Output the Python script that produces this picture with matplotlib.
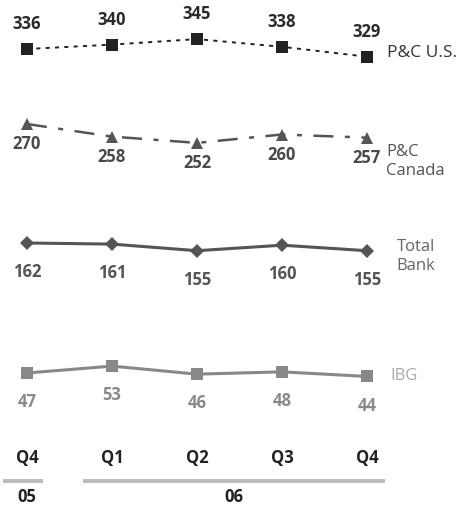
import matplotlib
matplotlib.use("Agg")
import matplotlib.pyplot as plt
from matplotlib.transforms import blended_transform_factory

# Quarterly values by business line
quarters = ["Q4", "Q1", "Q2", "Q3", "Q4"]
years = ["05", "06"]
year_spans = [(0, 0), (1, 4)]  # quarter index range covered by each year
pc_us = [336, 340, 345, 338, 329]
pc_canada = [270, 258, 252, 260, 257]
total_bank = [162, 161, 155, 160, 155]
ibg = [47, 53, 46, 48, 44]

W, H = 462, 508
fig = plt.figure(figsize=(W / 100, H / 100), dpi=100)
plt.rcParams["font.family"] = ["Open Sans", "DejaVu Sans"]

x = list(range(len(quarters)))
x0_px, step_px = 27, 85
xlim = (-x0_px / step_px, (W - x0_px) / step_px)


def band(anchor_val, anchor_px, px_per_unit):
    """Transparent full-figure axes whose y scale places anchor_val at anchor_px (from top)."""
    ax = fig.add_axes([0, 0, 1, 1])
    ax.set_xlim(*xlim)
    lo = anchor_val - (H - anchor_px) / px_per_unit
    ax.set_ylim(lo, lo + H / px_per_unit)
    ax.axis("off")
    ax.patch.set_alpha(0)
    return ax


series = [
    dict(vals=pc_us, name="P&C U.S.", anchor=(336, 49, 1.1), color="#222222",
         ls=(0, (2.1, 2.7)), lw=1.4, marker="s", ms=8, lab_off=18, lab_color="#2a2a2a",
         name_off=(14.5, 3), name_color="#333333", name_size=12.5),
    dict(vals=pc_canada, name="P&C\nCanada", anchor=(270, 124, 1.05), color="#555555",
         ls=(0, (8, 4.6, 2, 4.6)), lw=1.8, marker="^", ms=8, lab_off=-14.5, lab_color="#4a4a4a",
         name_off=(14, -17), name_color="#555555", name_size=12),
    dict(vals=total_bank, name="Total\nBank", anchor=(162, 243, 1.1), color="#555555",
         ls="-", lw=2.2, marker="D", ms=7.5, lab_off=-21, lab_color="#555555",
         name_off=(21.5, -4), name_color="#666666", name_size=12),
    dict(vals=ibg, name="IBG", anchor=(47, 373, 1.15), color="#888888",
         ls="-", lw=2.2, marker="s", ms=8, lab_off=-21, lab_color="#8a8a8a",
         name_off=(16.5, 0), name_color="#aaaaaa", name_size=12),
]

for s in series:
    ax = band(*s["anchor"])
    ax.plot(x, s["vals"], color=s["color"], linestyle=s["ls"], linewidth=s["lw"],
            marker=s["marker"], markersize=s["ms"], markeredgewidth=0, zorder=3)
    for xi, v in zip(x, s["vals"]):
        ax.annotate(str(v), (xi, v), xytext=(0, s["lab_off"]), textcoords="offset points",
                    ha="center", va="center", fontsize=12, fontweight="bold",
                    color=s["lab_color"])
    ax.annotate(s["name"], (x[-1], s["vals"][-1]), xytext=s["name_off"],
                textcoords="offset points", ha="left", va="center",
                fontsize=s["name_size"], color=s["name_color"], linespacing=1.25)

# Category axis: quarter labels and year groups
axx = fig.add_axes([0, 0, 1, 1])
axx.set_xlim(*xlim)
axx.set_ylim(0, 1)
axx.axis("off")
axx.patch.set_alpha(0)
tr = blended_transform_factory(axx.transData, fig.transFigure)
for xi, q in zip(x, quarters):
    axx.text(xi, 1 - 458 / H, q, transform=tr, ha="center", va="center",
             fontsize=12, fontweight="bold", color="#222222")
for (a, b), yr in zip(year_spans, years):
    left = a - (0.28 if a == 0 else 0.34)
    right = b + (0.19 if b == 0 else 0.21)
    axx.plot([left, right], [1 - 481 / H] * 2, transform=tr, color="#bbbbbb",
             linewidth=2.8, solid_capstyle="butt")
    axx.text((left + right) / 2 if b > a else a, 1 - 497 / H, yr, transform=tr,
             ha="center", va="center", fontsize=12, fontweight="bold", color="#222222")

fig.savefig("out.png", dpi=100)
